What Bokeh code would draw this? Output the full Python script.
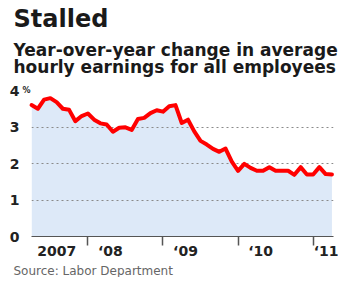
from bokeh.plotting import figure
from bokeh.models import Range1d, FixedTicker, Title, LinearAxis
from bokeh.embed import file_html
from bokeh.resources import INLINE

# ---- data ----
start_year = 2007
start_month = 4          # first monthly observation (April 2007)
earnings_change = [3.60, 3.50, 3.75, 3.79, 3.68, 3.50, 3.47, 3.16, 3.30, 3.37,
                   3.20, 3.10, 3.07, 2.87, 2.98, 2.99, 2.92, 3.22, 3.25, 3.38,
                   3.46, 3.42, 3.57, 3.60, 3.11, 3.20, 2.88, 2.62, 2.52, 2.40,
                   2.32, 2.41, 2.05, 1.80, 1.99, 1.88, 1.80, 1.80, 1.90, 1.80,
                   1.80, 1.80, 1.69, 1.90, 1.70, 1.70, 1.90, 1.71, 1.70]
year_ticks = [2008, 2009, 2010, 2011]
x_tick_labels = ["2007", "\u201808", "\u201809", "\u201810", "\u201811"]
y_ticks = [0, 1, 2, 3, 4]
y_tick_labels = ["0", "1", "2", "3", "4"]
unit_label = "%"

title_text = "Stalled"
subtitle_text = "Year-over-year change in average\nhourly earnings for all employees"
source_text = "Source: Labor Department"

x = [start_year + (start_month - 1 + i) / 12 for i in range(len(earnings_change))]

# label centres (positions, not data)
x0 = x[0] - 0.001
x1 = x[-1] + 0.021
label_pos = [x0 + 0.335] + [yr + 0.3 for yr in year_ticks[:-1]] + [year_ticks[-1] + 0.2]

FONT = "DejaVu Sans"
INK = "#222222"

p = figure(frame_width=302, frame_height=146, output_backend="svg", toolbar_location=None,
           x_range=Range1d(x0, x1), y_range=Range1d(0, 4.0),
           min_border_left=31, min_border_right=5, min_border_top=0, min_border_bottom=0)
p.outline_line_color = None
p.background_fill_color = "white"
p.border_fill_color = "white"

# area + line
p.varea(x=x, y1=[0] * len(x), y2=earnings_change, fill_color="#dde9f8", level="underlay")
p.line(x=x, y=earnings_change, line_color="#ff0000", line_width=4,
       line_join="round", line_cap="round", level="annotation")

# grid
p.xgrid.visible = False
p.ygrid.ticker = FixedTicker(ticks=y_ticks[1:])
p.ygrid.grid_line_color = "#8a8a8a"
p.ygrid.grid_line_dash = "2 3"
p.ygrid.grid_line_width = 1
p.ygrid.level = "glyph"

def style_plain(ax):
    ax.axis_line_color = None
    ax.major_tick_line_color = None
    ax.minor_tick_line_color = None
    ax.major_tick_out = 0
    ax.major_tick_in = 0
    ax.minor_tick_out = 0
    ax.minor_tick_in = 0
    ax.major_label_text_font = FONT
    ax.major_label_text_font_style = "bold"
    ax.major_label_text_color = INK

# inner y axis: only the unit sign next to the top tick
yin = p.yaxis[0]
yin.ticker = FixedTicker(ticks=[y_ticks[-1]])
yin.major_label_overrides = {y_ticks[-1]: unit_label}
style_plain(yin)
yin.major_label_standoff = 1
yin.major_label_text_font_size = "8px"

# outer y axis: the numbers
yout = LinearAxis(ticker=FixedTicker(ticks=y_ticks),
                  major_label_overrides={t: l for t, l in zip(y_ticks, y_tick_labels)})
style_plain(yout)
yout.major_label_standoff = 0
yout.major_label_text_font_size = "14px"
p.add_layout(yout, "left")

# x axis
xax = p.xaxis[0]
xax.ticker = FixedTicker(ticks=label_pos, minor_ticks=year_ticks)
xax.major_label_overrides = {t: l for t, l in zip(label_pos, x_tick_labels)}
xax.axis_line_color = "#555555"
xax.axis_line_width = 1.2
xax.major_tick_line_color = None
xax.major_tick_out = 0
xax.major_tick_in = 0
xax.minor_tick_line_color = "#555555"
xax.minor_tick_line_width = 1.5
xax.minor_tick_out = 9
xax.minor_tick_in = 0
xax.major_label_standoff = -3
xax.major_label_text_font = FONT
xax.major_label_text_font_style = "bold"
xax.major_label_text_font_size = "14px"
xax.major_label_text_color = INK

# invisible spacer axis between the header and the plot frame
mid = (x0 + x1) / 2
spacer = LinearAxis(ticker=FixedTicker(ticks=[mid]), major_label_overrides={mid: ""})
style_plain(spacer)
spacer.major_tick_out = 13
spacer.major_label_standoff = 0
p.add_layout(spacer, "above")

# titles (added inner -> outer)
p.add_layout(Title(text=subtitle_text, align="left", offset=-18,
                   text_font=FONT, text_font_style="bold", text_font_size="17px",
                   text_line_height=0.86, text_color="#1a1a1a", standoff=0), "above")
p.add_layout(Title(text=title_text, align="left", offset=-18, vertical_align="top",
                   text_font=FONT, text_font_style="bold", text_font_size="24px",
                   text_color="#1a1a1a", standoff=8), "above")

p.add_layout(Title(text=source_text, align="left", offset=-18,
                   text_font=FONT, text_font_style="normal", text_font_size="12px",
                   text_color="#666666", standoff=0), "below")

open("out.html", "w").write(file_html(p, INLINE))
